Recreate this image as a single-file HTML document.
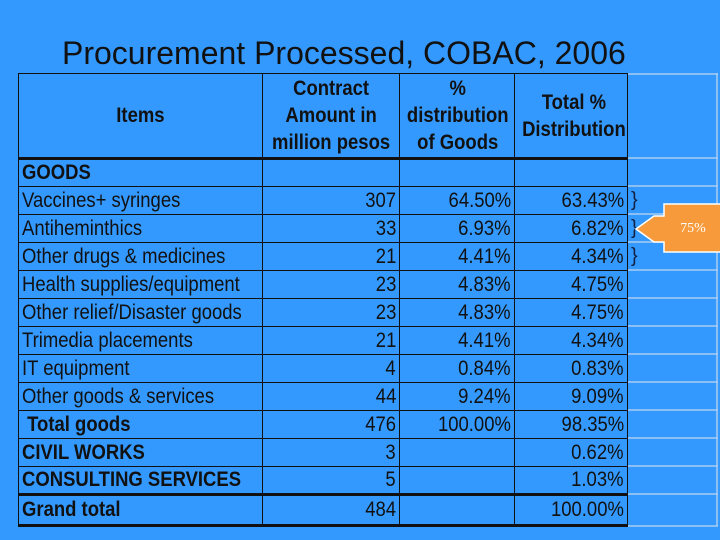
<!DOCTYPE html>
<html><head><meta charset="utf-8">
<style>
body{margin:0;width:720px;height:540px;background:#3399ff;position:relative;overflow:hidden;font-family:"Liberation Sans",sans-serif;}
#title{position:absolute;left:62px;top:35px;font-family:"Liberation Sans",sans-serif;font-size:32px;color:#111;white-space:nowrap;}
table{position:absolute;left:18px;top:73px;width:609px;border-collapse:collapse;table-layout:fixed;}
tr{height:28px;}
tr.h{height:85px;}
tr.g{height:31px;}
td{border:1.5px solid #111;padding:0 3px;font-size:21px;color:#111;line-height:24px;white-space:nowrap;overflow:hidden;}
th{border:1.5px solid #111;font-size:21px;font-weight:bold;color:#111;line-height:27px;padding:0;}
td.n{text-align:right;}
.thick td{border-top:3px solid #111;}
span.c{display:inline-block;transform:scaleX(0.88);transform-origin:left center;}
td.n span.c{transform-origin:right center;}
th span.c{transform-origin:center center;}
#grid{position:absolute;left:627px;top:73px;}
</style></head><body>
<div id="title">Procurement Processed, COBAC, 2006</div>
<svg id="grid" width="93" height="455">
<g stroke="#a9cdf2" stroke-width="1.5">
<line x1="0" y1="1" x2="91" y2="1"/><line x1="0" y1="85" x2="91" y2="85"/>
<line x1="0" y1="113" x2="91" y2="113"/><line x1="0" y1="141" x2="91" y2="141"/>
<line x1="0" y1="169" x2="91" y2="169"/><line x1="0" y1="197" x2="91" y2="197"/>
<line x1="0" y1="225" x2="91" y2="225"/><line x1="0" y1="253" x2="91" y2="253"/>
<line x1="0" y1="281" x2="91" y2="281"/><line x1="0" y1="309" x2="91" y2="309"/>
<line x1="0" y1="337" x2="91" y2="337"/><line x1="0" y1="365" x2="91" y2="365"/>
<line x1="0" y1="393" x2="91" y2="393"/><line x1="0" y1="421" x2="91" y2="421"/>
<line x1="0" y1="453" x2="91" y2="453"/><line x1="90" y1="0" x2="90" y2="453"/>
</g></svg>
<table>
<colgroup><col style="width:244px"><col style="width:137px"><col style="width:115px"><col style="width:113px"></colgroup>
<tr class="h"><th><span class="c">Items</span></th><th><span class="c">Contract<br>Amount in<br>million pesos</span></th><th><span class="c">%<br>distribution<br>of Goods</span></th><th><span class="c">Total %<br>Distribution</span></th></tr>
<tr class="thick"><td style="font-weight:bold"><span class="c">GOODS</span></td><td></td><td></td><td></td></tr>
<tr><td><span class="c">Vaccines+ syringes</span></td><td class="n"><span class="c">307</span></td><td class="n"><span class="c">64.50%</span></td><td class="n"><span class="c">63.43%</span></td></tr>
<tr><td><span class="c">Antiheminthics</span></td><td class="n"><span class="c">33</span></td><td class="n"><span class="c">6.93%</span></td><td class="n"><span class="c">6.82%</span></td></tr>
<tr><td><span class="c">Other drugs &amp; medicines</span></td><td class="n"><span class="c">21</span></td><td class="n"><span class="c">4.41%</span></td><td class="n"><span class="c">4.34%</span></td></tr>
<tr><td><span class="c">Health supplies/equipment</span></td><td class="n"><span class="c">23</span></td><td class="n"><span class="c">4.83%</span></td><td class="n"><span class="c">4.75%</span></td></tr>
<tr><td><span class="c">Other relief/Disaster goods</span></td><td class="n"><span class="c">23</span></td><td class="n"><span class="c">4.83%</span></td><td class="n"><span class="c">4.75%</span></td></tr>
<tr><td><span class="c">Trimedia placements</span></td><td class="n"><span class="c">21</span></td><td class="n"><span class="c">4.41%</span></td><td class="n"><span class="c">4.34%</span></td></tr>
<tr><td><span class="c">IT equipment</span></td><td class="n"><span class="c">4</span></td><td class="n"><span class="c">0.84%</span></td><td class="n"><span class="c">0.83%</span></td></tr>
<tr><td><span class="c">Other goods &amp; services</span></td><td class="n"><span class="c">44</span></td><td class="n"><span class="c">9.24%</span></td><td class="n"><span class="c">9.09%</span></td></tr>
<tr><td style="font-weight:bold"><span class="c">&nbsp;Total goods</span></td><td class="n"><span class="c">476</span></td><td class="n"><span class="c">100.00%</span></td><td class="n"><span class="c">98.35%</span></td></tr>
<tr><td style="font-weight:bold"><span class="c">CIVIL WORKS</span></td><td class="n"><span class="c">3</span></td><td></td><td class="n"><span class="c">0.62%</span></td></tr>
<tr><td style="font-weight:bold"><span class="c">CONSULTING SERVICES</span></td><td class="n"><span class="c">5</span></td><td></td><td class="n"><span class="c">1.03%</span></td></tr>
<tr class="thick g" style="border-bottom:3px solid #111"><td style="font-weight:bold"><span class="c">Grand total</span></td><td class="n"><span class="c">484</span></td><td></td><td class="n"><span class="c">100.00%</span></td></tr>
</table>
<div style="position:absolute;left:631px;top:186px;font-size:20px;line-height:28px;color:#112244;font-family:'Liberation Sans',sans-serif">}<br>}<br>}</div>
<svg style="position:absolute;left:0;top:0" width="720" height="540">
<polygon points="636,229 654,216 664,216 664,204 721,204 721,252 664,252 664,242 654,242" fill="#f79a3c" stroke="#fff" stroke-width="1.5"/>
<text x="693" y="232" font-family="Liberation Serif,serif" font-size="14" fill="#fff" text-anchor="middle">75%</text>
</svg>
</body></html>
